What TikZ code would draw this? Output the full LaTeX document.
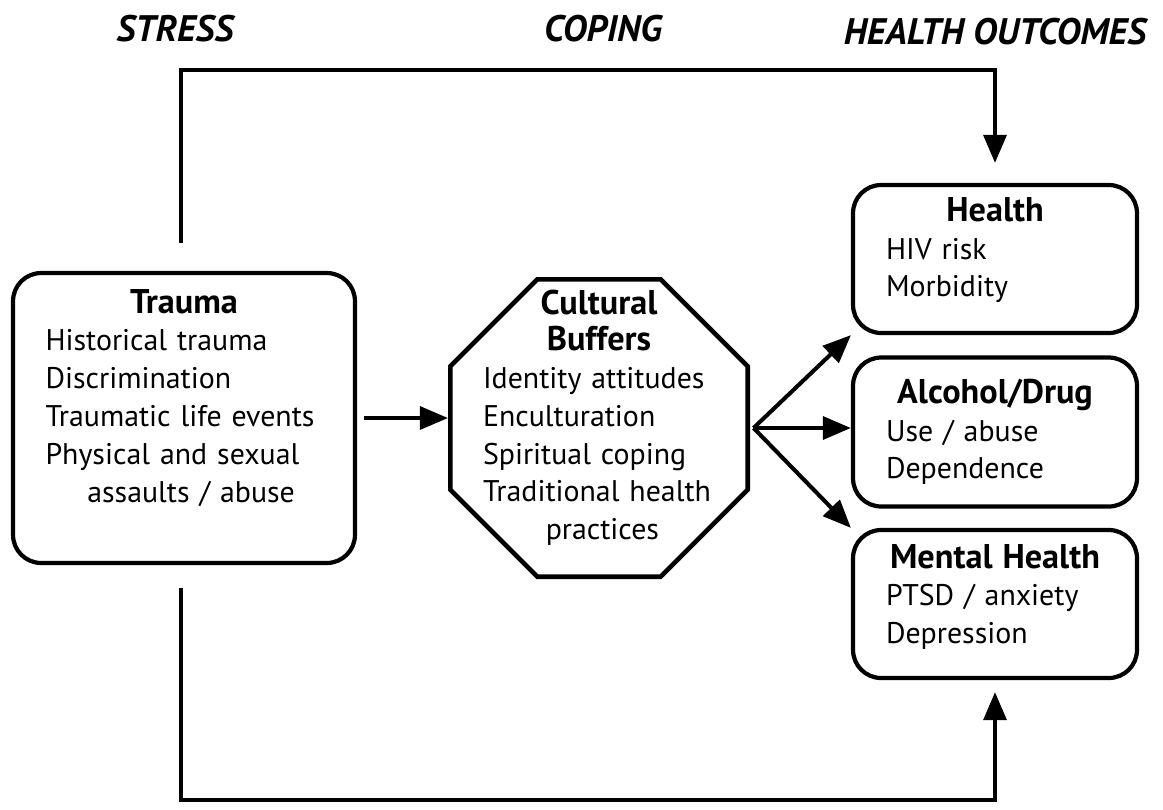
\documentclass[tikz,border=0pt]{standalone}
\usepackage{fontspec}
\setmainfont{PT Sans}
\usetikzlibrary{arrows.meta,shapes.geometric}
\newcommand{\boxhead}[1]{\makebox[\hsize]{\fontsize{19.5}{22}\selectfont\bfseries #1}}

\begin{document}
\begin{tikzpicture}[x=0.02cm,y=-0.02cm,
        head/.style={font=\fontsize{21}{24}\selectfont\bfseries\itshape},
        txt/.style={font=\fontsize{17}{21.5}\selectfont},
        box/.style={txt,draw,line width=2.4pt,rounded corners=16pt,inner sep=0pt,align=left},
        octa/.style={draw,line width=2.6pt,regular polygon,regular polygon sides=8,minimum size=6.44cm,inner sep=0pt},
        flow/.style={line width=2.3pt,-{Triangle[length=16pt,width=13pt]}}]
    \useasboundingbox (0,0) rectangle (1163,809);
    \node[head](5)at(175,29) {STRESS};
    \node[head](6)at(603,29) {COPING};
    \node[head](7)at(995,32) {HEALTH OUTCOMES};

    \node[box,minimum width=6.84cm,minimum height=5.8cm,text width=5.54cm](0)at(184,418)
        {\boxhead{Trauma}\\Historical trauma\\Discrimination\\Traumatic life events\\Physical and sexual\\\hspace*{1.4em}assaults / abuse\\[4pt]\mbox{}};
    \node[octa](1)at(599,428) {};
    \node[txt,text width=4.64cm,align=left](8)at(599,418)
        {\boxhead{Cultural}\\[-1pt]\boxhead{Buffers}\\Identity attitudes\\Enculturation\\Spiritual coping\\Traditional health\\\hspace*{2.1em}practices};
    \node[box,minimum width=5.68cm,minimum height=2.96cm,text width=4.36cm](2)at(995,259)
        {\boxhead{Health}\\HIV risk\\Morbidity\\[-8pt]\mbox{}};
    \node[box,minimum width=5.68cm,minimum height=2.98cm,text width=4.36cm](3)at(995,432)
        {\boxhead{Alcohol/Drug}\\Use / abuse\\Dependence};
    \node[box,minimum width=5.68cm,minimum height=2.96cm,text width=4.36cm](4)at(995,604)
        {\boxhead{Mental Health}\\PTSD / anxiety\\Depression\\[-10pt]\mbox{}};

    \coordinate (a) at (181,243);
    \coordinate (b) at (181,588);
    \coordinate (fan) at ([xshift=2pt]1.east);

    \draw[flow,shorten >=0.4cm](a) -- ++(0,-173) -| (2.north);
    \draw[flow,shorten >=0.24cm](b) -- ++(0,212) -| (4.south);
    \draw[flow]([xshift=4pt]0.east) -- (0.east -| 1.west);
    \draw[flow](fan) -- (2.south west);
    \draw[flow](fan) -- (fan -| 3.west);
    \draw[flow](fan) -- (4.north west);
\end{tikzpicture}
\end{document}
